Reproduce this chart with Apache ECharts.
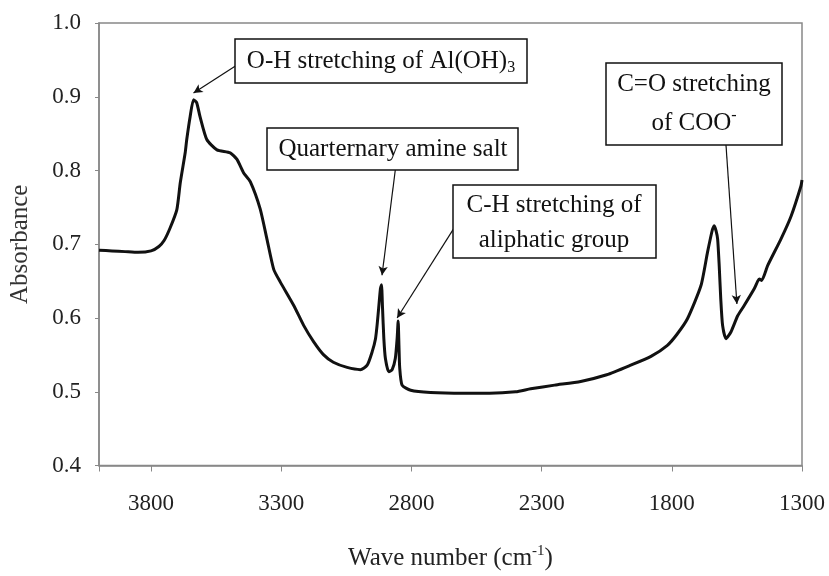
<!DOCTYPE html>
<html>
<head>
<meta charset="utf-8">
<script src="https://cdn.jsdelivr.net/npm/echarts@6/dist/echarts.min.js"></script>
<style>
  html, body { margin: 0; padding: 0; background: #fff; }
  #main { width: 829px; height: 576px; }
</style>
</head>
<body>
<div id="main"></div>
<script type="text/javascript">
// wave number (cm-1) and absorbance
var waveNumber = [4000, 3950, 3900, 3850, 3800, 3770, 3750, 3727, 3701, 3688, 3669, 3663, 3650, 3637, 3625, 3612, 3586, 3547, 3496, 3470, 3445, 3419, 3381, 3355, 3329, 3304, 3252, 3214, 3176, 3137, 3100, 3047, 2996, 2970, 2951, 2938, 2932, 2926, 2919, 2915, 2911, 2906, 2900, 2887, 2874, 2862, 2855, 2851, 2848, 2845, 2836, 2803, 2727, 2600, 2500, 2400, 2342, 2250, 2150, 2050, 1958, 1880, 1817, 1780, 1740, 1688, 1663, 1644, 1637, 1630, 1624, 1618, 1612, 1605, 1592, 1573, 1547, 1522, 1483, 1470, 1464, 1455, 1432, 1381, 1342, 1304, 1300];
var absorbance = [0.692, 0.691, 0.690, 0.689, 0.691, 0.697, 0.705, 0.722, 0.747, 0.783, 0.824, 0.842, 0.873, 0.896, 0.892, 0.873, 0.842, 0.828, 0.824, 0.815, 0.797, 0.785, 0.748, 0.707, 0.666, 0.649, 0.617, 0.590, 0.568, 0.550, 0.540, 0.533, 0.530, 0.536, 0.554, 0.572, 0.590, 0.613, 0.640, 0.645, 0.613, 0.572, 0.545, 0.527, 0.530, 0.545, 0.572, 0.596, 0.563, 0.532, 0.509, 0.502, 0.499, 0.498, 0.498, 0.500, 0.504, 0.509, 0.514, 0.523, 0.536, 0.548, 0.563, 0.578, 0.599, 0.644, 0.689, 0.720, 0.725, 0.718, 0.707, 0.671, 0.626, 0.590, 0.572, 0.581, 0.603, 0.617, 0.640, 0.650, 0.653, 0.651, 0.671, 0.707, 0.738, 0.779, 0.787];

// annotation arrows: [from, to] in data units
var arrows = [
  [[3470, 0.943], [3637, 0.905]],
  [[2862, 0.801], [2913, 0.658]],
  [[2631, 0.725], [2855, 0.600]],
  [[1592, 0.835], [1550, 0.619]]
];

var serif = '"Liberation Serif", "Times New Roman", serif';

var points = [];
for (var i = 0; i < waveNumber.length; i++) {
  points.push([waveNumber[i], absorbance[i]]);
}

var arrowData = [];
for (var j = 0; j < arrows.length; j++) {
  arrowData.push([{ coord: arrows[j][0] }, { coord: arrows[j][1] }]);
}

function box(x, y, w, h) {
  return {
    type: 'rect', z: 10,
    shape: { x: x, y: y, width: w, height: h },
    style: { fill: '#fff', stroke: '#111', lineWidth: 1.5 }
  };
}
function label(x, y, text, rich) {
  return {
    type: 'text', z: 11,
    style: {
      x: x, y: y, text: text,
      textAlign: 'center', textVerticalAlign: 'middle',
      font: '25px ' + serif, fill: '#111',
      rich: rich
    }
  };
}

var chart = echarts.init(document.getElementById('main'));

var option = {
  backgroundColor: '#fff',
  animation: false,
  grid: {
    left: 99, right: 27, top: 23, bottom: 108,
    show: true, borderColor: '#888', borderWidth: 1.5
  },
  xAxis: {
    type: 'value',
    inverse: true,
    min: 1300, max: 4000, interval: 500,
    name: '{a|Wave number (cm}{b|-1}{a|)}',
    nameLocation: 'middle',
    nameGap: 78,
    nameTextStyle: {
      rich: {
        a: { fontFamily: serif, fontSize: 25, color: '#222', lineHeight: 30 },
        b: { fontFamily: serif, fontSize: 15, color: '#222', verticalAlign: 'top', lineHeight: 30 }
      }
    },
    axisLine: { lineStyle: { color: '#888', width: 1.5 } },
    axisTick: { inside: false, length: 6, lineStyle: { color: '#888' } },
    axisLabel: {
      margin: 27, fontFamily: serif, fontSize: 23, color: '#222',
      formatter: function (v) { return v === 4000 ? '' : String(v); }
    },
    splitLine: { show: false }
  },
  yAxis: {
    type: 'value',
    min: 0.4, max: 1.0, interval: 0.1,
    name: 'Absorbance',
    nameLocation: 'middle',
    nameGap: 66,
    nameTextStyle: { fontFamily: serif, fontSize: 25, color: '#333' },
    axisLine: { show: true, lineStyle: { color: '#888', width: 1.5 } },
    axisTick: { show: true, length: 4, lineStyle: { color: '#888' } },
    axisLabel: {
      margin: 18, fontFamily: serif, fontSize: 23, color: '#222',
      formatter: function (v) { return v.toFixed(1); }
    },
    splitLine: { show: false }
  },
  series: [{
    name: 'Absorbance',
    type: 'line',
    data: points,
    smooth: 0.2,
    showSymbol: false,
    lineStyle: { color: '#111', width: 3 },
    markLine: {
      silent: true,
      symbol: ['none', 'arrow'],
      symbolSize: [7, 9],
      label: { show: false },
      lineStyle: { color: '#111', width: 1.2, type: 'solid' },
      data: arrowData
    }
  }],
  graphic: [
    box(235, 39, 292, 44),
    label(381, 61, '{a|O-H stretching of Al(OH)}{b|3}', {
      a: { font: '25px ' + serif, fill: '#111', lineHeight: 30 },
      b: { font: '16px ' + serif, fill: '#111', verticalAlign: 'bottom', lineHeight: 24 }
    }),
    box(267, 128, 251, 42),
    label(393, 149, 'Quarternary amine salt'),
    box(453, 185, 203, 73),
    label(554, 205, 'C-H stretching of'),
    label(554, 240, 'aliphatic group'),
    box(606, 63, 176, 82),
    label(694, 84, 'C=O stretching'),
    label(694, 123, '{a|of COO}{b|-}', {
      a: { font: '25px ' + serif, fill: '#111', lineHeight: 30 },
      b: { font: '16px ' + serif, fill: '#111', verticalAlign: 'top', lineHeight: 30 }
    })
  ]
};

chart.setOption(option);
</script>
</body>
</html>
